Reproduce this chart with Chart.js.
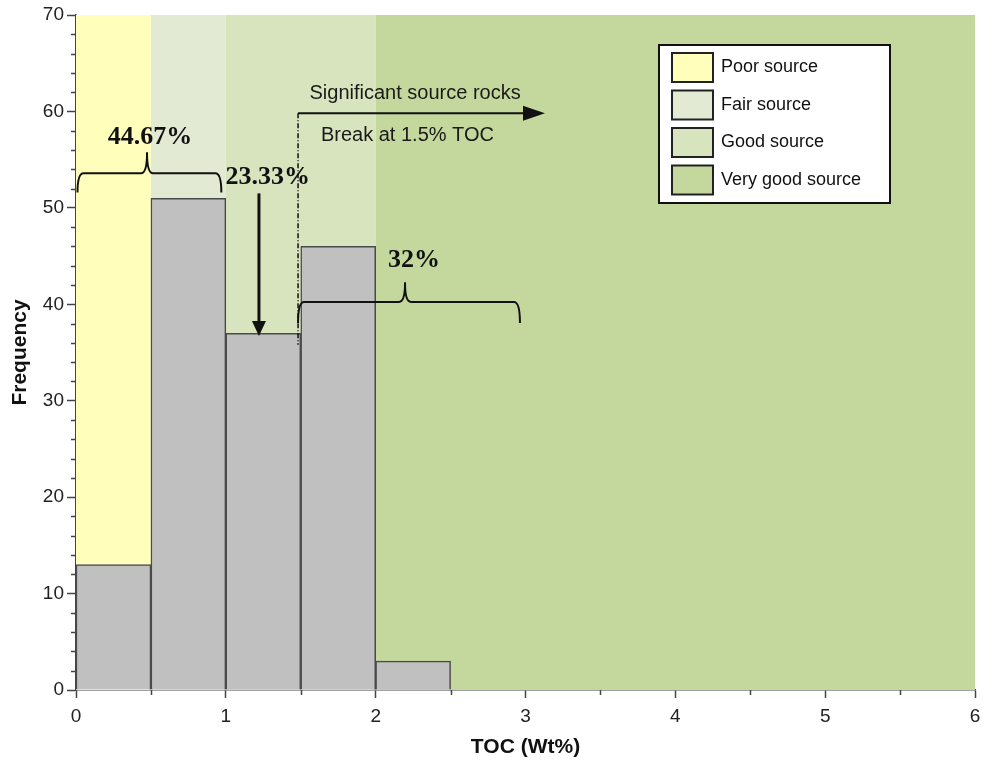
<!DOCTYPE html>
<html>
<head>
<meta charset="utf-8">
<script src="https://cdn.jsdelivr.net/npm/chart.js@4.4.1/dist/chart.umd.min.js"></script>
<style>
  html, body { margin: 0; padding: 0; background: #ffffff; }
  #wrap { width: 983px; height: 767px; position: relative; }
</style>
</head>
<body>
<div id="wrap"><canvas id="c" width="983" height="767"></canvas></div>
<script>
// ---- data ----
const binStarts = [0, 0.5, 1.0, 1.5, 2.0];
const binWidth = 0.5;
const frequencies = [13, 51, 37, 46, 3];

const bandNames = ['Poor source', 'Fair source', 'Good source', 'Very good source'];
const bandFrom = [0, 0.5, 1.0, 2.0];
const bandTo = [0.5, 1.0, 2.0, 6.0];
const bandColors = ['#ffffbb', '#e3ead4', '#d8e4bd', '#c4d79c'];

const xTicks = [0, 1, 2, 3, 4, 5, 6];
const yTicks = [0, 10, 20, 30, 40, 50, 60, 70];

const percentLabels = ['44.67%', '23.33%', '32%'];
const breakTexts = ['Significant source rocks', 'Break at 1.5% TOC'];

// ---- plugins ----
const bandsPlugin = {
  id: 'bands',
  beforeDatasetsDraw(chart) {
    const {ctx, chartArea, scales} = chart;
    ctx.save();
    for (let i = 0; i < bandFrom.length; i++) {
      const x0 = scales.x.getPixelForValue(bandFrom[i]);
      const x1 = scales.x.getPixelForValue(bandTo[i]);
      ctx.fillStyle = bandColors[i];
      ctx.fillRect(x0, chartArea.top, x1 - x0, chartArea.bottom - chartArea.top);
    }
    ctx.restore();
  }
};

function brace(ctx, xs, ys, x0, x1, xt, yTop, yEnd, yTip) {
  const X0 = xs.getPixelForValue(x0), X1 = xs.getPixelForValue(x1), XT = xs.getPixelForValue(xt);
  const YT = ys.getPixelForValue(yTop), YE = ys.getPixelForValue(yEnd), YP = ys.getPixelForValue(yTip);
  const r = 6;
  ctx.beginPath();
  ctx.moveTo(X0, YE);
  ctx.quadraticCurveTo(X0, YT, X0 + r, YT);
  ctx.lineTo(XT - r, YT);
  ctx.quadraticCurveTo(XT, YT, XT, YP);
  ctx.quadraticCurveTo(XT, YT, XT + r, YT);
  ctx.lineTo(X1 - r, YT);
  ctx.quadraticCurveTo(X1, YT, X1, YE);
  ctx.stroke();
}

const annotPlugin = {
  id: 'annot',
  afterDatasetsDraw(chart) {
    const {ctx, scales} = chart;
    const xs = scales.x, ys = scales.y;
    const px = v => xs.getPixelForValue(v), py = v => ys.getPixelForValue(v);
    ctx.save();
    ctx.strokeStyle = '#111';
    ctx.fillStyle = '#111';
    ctx.lineWidth = 2;
    ctx.lineJoin = 'round';
    // braces
    brace(ctx, xs, ys, 0.01, 0.97, 0.474, 53.6, 51.6, 55.7);
    brace(ctx, xs, ys, 1.482, 2.963, 2.196, 40.24, 38.06, 42.2);
    // percent labels
    ctx.font = 'bold 26px "Liberation Serif", "Times New Roman", serif';
    ctx.textAlign = 'center';
    ctx.textBaseline = 'middle';
    ctx.fillText(percentLabels[0], px(0.494), py(57.35));
    ctx.fillText(percentLabels[1], px(1.28), py(53.2));
    ctx.fillText(percentLabels[2], px(2.256), py(44.6));
    // vertical arrow
    const ax = px(1.221);
    const aTip = py(36.7);
    ctx.lineWidth = 3;
    ctx.beginPath();
    ctx.moveTo(ax, py(51.5));
    ctx.lineTo(ax, aTip - 12);
    ctx.stroke();
    ctx.beginPath();
    ctx.moveTo(ax - 7, aTip - 15);
    ctx.lineTo(ax + 7, aTip - 15);
    ctx.lineTo(ax, aTip);
    ctx.closePath();
    ctx.fill();
    // dash-dot vertical break line
    const bx = px(1.482);
    const by = py(59.8);
    ctx.lineWidth = 1.5;
    ctx.setLineDash([5, 2, 1, 2]);
    ctx.beginPath();
    ctx.moveTo(bx, by);
    ctx.lineTo(bx, py(35.8));
    ctx.stroke();
    ctx.setLineDash([]);
    // horizontal arrow
    const hx = px(3.13);
    ctx.lineWidth = 2;
    ctx.beginPath();
    ctx.moveTo(bx, by);
    ctx.lineTo(hx - 18, by);
    ctx.stroke();
    ctx.beginPath();
    ctx.moveTo(hx - 22, by - 7.5);
    ctx.lineTo(hx, by);
    ctx.lineTo(hx - 22, by + 7.5);
    ctx.closePath();
    ctx.fill();
    // texts
    ctx.font = '20px "Liberation Sans", Arial, sans-serif';
    ctx.fillStyle = '#1a1a1a';
    ctx.fillText(breakTexts[0], px(2.263), py(61.9));
    ctx.fillText(breakTexts[1], px(2.212), py(57.55));
    ctx.restore();
  },
  afterDraw(chart) {
    const {ctx, chartArea, scales} = chart;
    const xs = scales.x, ys = scales.y;
    ctx.save();
    // minor ticks
    ctx.strokeStyle = '#444';
    ctx.lineWidth = 1.5;
    ctx.beginPath();
    for (let v = 2; v < 70; v += 2) {
      if (v % 10 === 0) continue;
      const y = Math.round(ys.getPixelForValue(v)) + 0.5;
      ctx.moveTo(chartArea.left - 5, y);
      ctx.lineTo(chartArea.left, y);
    }
    for (let v = 0.5; v < 6; v += 1) {
      const x = Math.round(xs.getPixelForValue(v)) + 0.5;
      ctx.moveTo(x, chartArea.bottom);
      ctx.lineTo(x, chartArea.bottom + 5);
    }
    ctx.stroke();
    // legend
    const L = chartArea.left + 583, T = chartArea.top + 30, W = 231, H = 158;
    ctx.fillStyle = '#ffffff';
    ctx.fillRect(L, T, W, H);
    ctx.strokeStyle = '#111';
    ctx.lineWidth = 2;
    ctx.strokeRect(L, T, W, H);
    ctx.font = '18px "Liberation Sans", Arial, sans-serif';
    ctx.textAlign = 'left';
    ctx.textBaseline = 'middle';
    for (let i = 0; i < bandNames.length; i++) {
      const sy = T + 8 + i * 37.5;
      ctx.fillStyle = bandColors[i];
      ctx.fillRect(L + 13, sy, 41, 29);
      ctx.strokeStyle = '#222';
      ctx.lineWidth = 2;
      ctx.strokeRect(L + 13, sy, 41, 29);
      ctx.fillStyle = '#111';
      ctx.fillText(bandNames[i], L + 62, sy + 14.5);
    }
    ctx.restore();
  }
};

const tickFont = {family: '"Liberation Sans", Arial, sans-serif', size: 19};
const titleFont = {family: '"Liberation Sans", Arial, sans-serif', size: 21, weight: 'bold'};

new Chart(document.getElementById('c'), {
  type: 'bar',
  data: {
    datasets: [{
      label: 'Frequency',
      data: binStarts.map((b, i) => ({x: b + binWidth / 2, y: frequencies[i]})),
      backgroundColor: '#c0c0c0',
      borderColor: '#4a4a4a',
      borderWidth: 1.5,
      barPercentage: 1,
      categoryPercentage: 1,
      grouped: false
    }]
  },
  options: {
    responsive: false,
    animation: false,
    devicePixelRatio: 1,
    layout: {padding: {top: 15, right: 8, left: 0, bottom: 0}},
    plugins: {legend: {display: false}, tooltip: {enabled: false}},
    scales: {
      x: {
        type: 'linear',
        min: 0, max: 6,
        offset: false,
        afterFit(s) { s.height = 77; s.paddingLeft = 0; s.paddingRight = 0; },
        afterBuildTicks(s) { s.ticks = xTicks.map(v => ({value: v})); },
        ticks: {font: tickFont, color: '#222', padding: 7, maxRotation: 0},
        grid: {display: true, drawOnChartArea: false, drawTicks: true, tickLength: 8, color: '#444', tickWidth: 1.5, offset: false},
        border: {display: true, color: '#444', width: 1.5},
        title: {display: true, text: 'TOC (Wt%)', font: titleFont, color: '#111', padding: {top: 0, bottom: 7}}
      },
      y: {
        min: 0, max: 70,
        afterFit(s) { s.width = 76; s.paddingTop = 0; s.paddingBottom = 0; },
        afterBuildTicks(s) { s.ticks = yTicks.map(v => ({value: v})); },
        ticks: {font: tickFont, color: '#222', padding: 3},
        grid: {display: true, drawOnChartArea: false, drawTicks: true, tickLength: 9, color: '#444', tickWidth: 1.5},
        border: {display: true, color: '#444', width: 1.5},
        title: {display: true, text: 'Frequency', font: titleFont, color: '#111', padding: {top: 8, bottom: 0}}
      }
    }
  },
  plugins: [bandsPlugin, annotPlugin]
});
</script>
</body>
</html>
